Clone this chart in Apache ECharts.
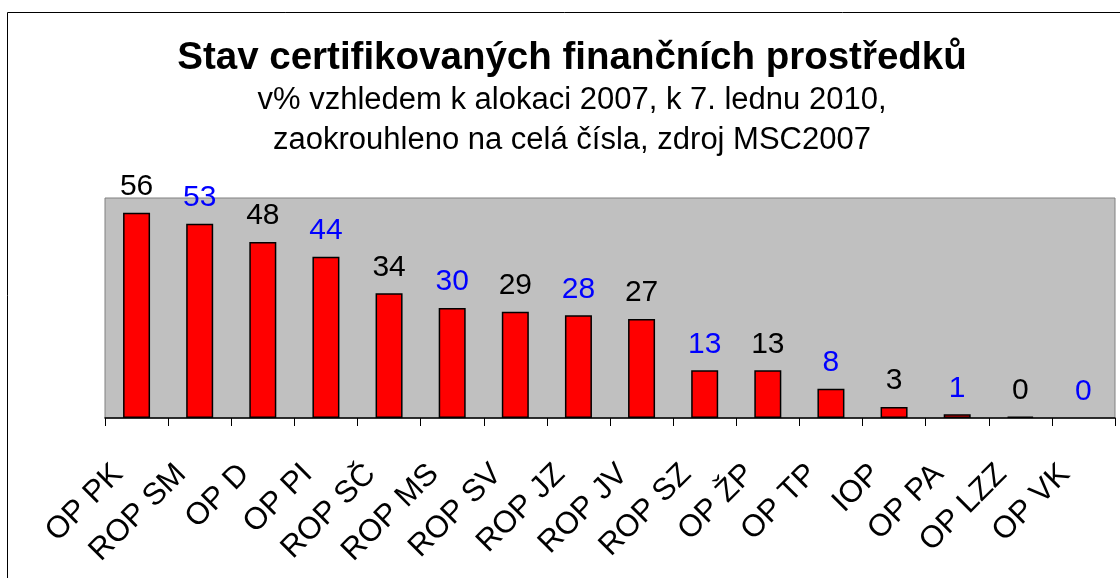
<!DOCTYPE html>
<html>
<head>
<meta charset="utf-8">
<script src="https://cdn.jsdelivr.net/npm/echarts@6/dist/echarts.min.js"></script>
<style>
  html, body { margin: 0; padding: 0; background: #fff; }
  #chart { width: 1120px; height: 578px; }
</style>
</head>
<body>
<div id="chart"></div>
<script>
// data
const categories = ['OP PK', 'ROP SM', 'OP D', 'OP PI', 'ROP SČ', 'ROP MS', 'ROP SV', 'ROP JZ',
  'ROP JV', 'ROP SZ', 'OP ŽP', 'OP TP', 'IOP', 'OP PA', 'OP LZZ', 'OP VK'];
// OP LZZ shows a hairline bar, so it is a little above 0 (label rounds to 0)
const values = [56, 53, 48, 44, 34, 30, 29, 28, 27, 13, 13, 8, 3, 1, 0.4, 0];

const titleText = 'Stav certifikovaných finančních prostředků';
const subtitleLines = [
  'v% vzhledem k alokaci 2007, k 7. lednu 2010,',
  'zaokrouhleno na celá čísla, zdroj MSC2007'
];

const FONT = '"Liberation Sans", Arial, sans-serif';
const TITLE_X = 572; // centre of the chart frame, not of the window

const chart = echarts.init(document.getElementById('chart'), null, { renderer: 'canvas' });

// labels alternate black / blue like in the original
const barData = values.map((v, i) => ({
  value: v,
  label: { color: i % 2 ? '#0000FF' : '#000000' },
  itemStyle: v === 0 ? { borderWidth: 0 } : undefined,
}));

const headerTexts = [
  { text: titleText, y: 58, size: 38.5, weight: 'bold' },
  { text: subtitleLines[0], y: 100, size: 31, weight: 'normal' },
  { text: subtitleLines[1], y: 140, size: 31, weight: 'normal' },
].map((t) => ({
  type: 'text',
  x: TITLE_X,
  y: t.y,
  silent: true,
  style: {
    text: t.text,
    align: 'center',
    verticalAlign: 'middle',
    fill: '#000',
    font: `${t.weight} ${t.size}px ${FONT}`,
  },
}));

chart.setOption({
  backgroundColor: '#ffffff',
  animation: false,
  graphic: [
    {
      // outer chart frame
      type: 'rect',
      shape: { x: 7.5, y: 12.5, width: 1200, height: 700 },
      style: { fill: 'none', stroke: '#000', lineWidth: 1 },
      silent: true,
    },
    ...headerTexts,
  ],
  grid: {
    left: 105,
    right: 5,
    top: 198,
    bottom: 160,
    show: true,
    backgroundColor: '#C0C0C0',
    borderColor: '#808080',
    borderWidth: 1,
    containLabel: false,
  },
  xAxis: {
    type: 'category',
    data: categories,
    boundaryGap: true,
    axisLine: { lineStyle: { color: '#000', width: 1.5 } },
    axisTick: { show: true, length: 8, lineStyle: { color: '#000' } },
    axisLabel: {
      rotate: 45,
      interval: 0,
      margin: 33,
      padding: [0, 26, 0, 0],
      fontFamily: FONT,
      fontSize: 31,
      color: '#000',
    },
  },
  yAxis: {
    type: 'value',
    min: 0,
    max: 60,
    show: false,
    splitLine: { show: false },
  },
  series: [
    {
      type: 'bar',
      data: barData,
      barWidth: 27,
      itemStyle: { color: '#FF0000', borderColor: '#000', borderWidth: 1.5 },
      label: {
        show: true,
        position: 'top',
        distance: 11,
        fontFamily: FONT,
        fontSize: 30,
        formatter: (p) => String(Math.round(p.value)),
      },
    },
  ],
});
</script>
</body>
</html>
